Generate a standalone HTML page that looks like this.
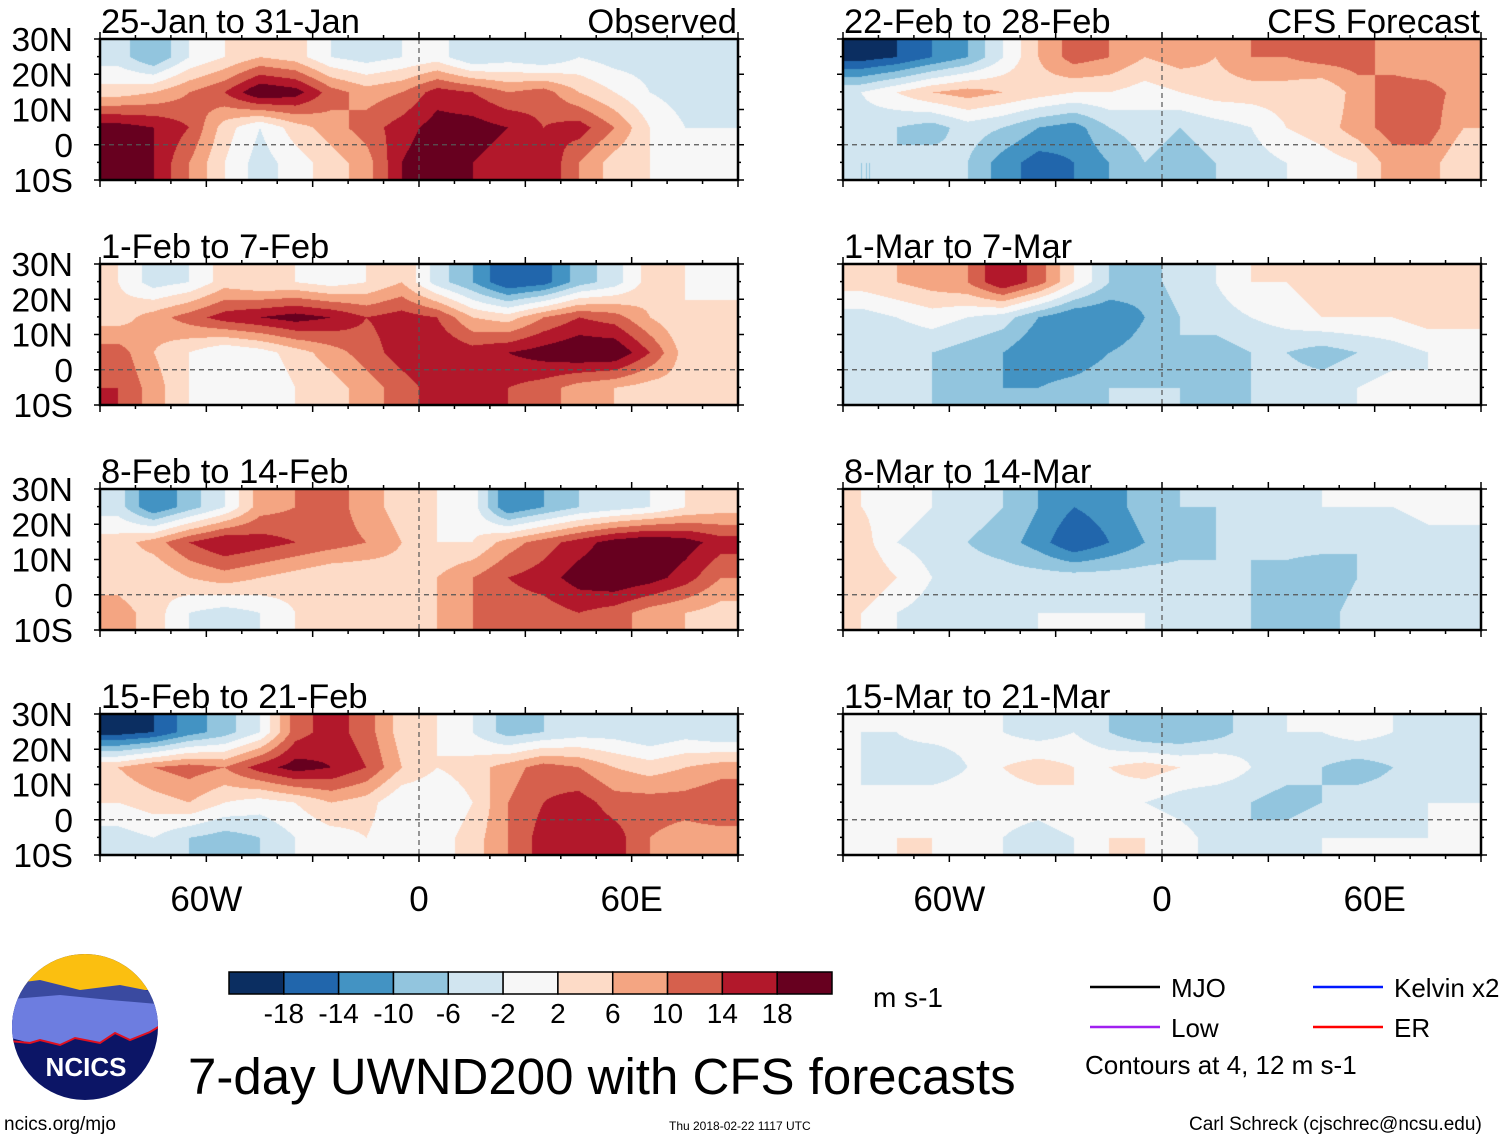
<!DOCTYPE html>
<html><head><meta charset="utf-8">
<style>
body{margin:0;background:#fff;width:1510px;height:1142px;overflow:hidden;position:relative;font-family:"Liberation Sans",sans-serif;}
.t{position:absolute;white-space:nowrap;color:#000;line-height:1;}
canvas,svg{position:absolute;left:0;top:0;}
</style></head>
<body>
<canvas id="maps" width="1510" height="1142"></canvas>
<svg id="ov" width="1510" height="1142"></svg>

<div class="t" style="left:188px;top:1051px;font-size:51px;">7-day UWND200 with CFS forecasts</div>
<div class="t" style="left:873px;top:984px;font-size:28px;">m s-1</div>
<div class="t" style="left:4px;top:1115px;font-size:19px;">ncics.org/mjo</div>
<div class="t" style="left:669px;top:1120px;font-size:12px;">Thu 2018-02-22 1117 UTC</div>
<div class="t" style="left:1189px;top:1115px;font-size:19px;">Carl Schreck (cjschrec@ncsu.edu)</div>
<div class="t" style="left:1085px;top:1052px;font-size:26px;">Contours at 4, 12 m s-1</div>

<script>
// ---- data: u-wind grid (m/s), rows lat 25N,15N,5N,5S ; cols lon -85..85 step 10
const lonCenters=[-85,-75,-65,-55,-45,-35,-25,-15,-5,5,15,25,35,45,55,65,75,85];
const latCenters=[25,15,5,-5];
const panelTitles=["25-Jan to 31-Jan","1-Feb to 7-Feb","8-Feb to 14-Feb","15-Feb to 21-Feb","22-Feb to 28-Feb","1-Mar to 7-Mar","8-Mar to 14-Mar","15-Mar to 21-Mar"];
const u1=[[-4,-10,-2,2,6,4,-2,-4,-2,0,-6,-4,-6,-2,-4,-4,-2,-4],[4,6,10,14,22,20,12,8,10,16,14,10,12,6,2,-2,-4,-6],[20,18,14,4,-2,4,8,12,16,20,20,18,14,16,10,2,-2,-2],[22,18,10,2,-4,0,4,8,18,22,18,16,18,10,4,2,0,-2]];
const u2=[[2,-4,-2,4,2,2,0,2,6,-4,-10,-18,-16,-8,-4,4,2,0],[4,8,12,16,18,20,18,14,16,14,6,4,10,14,12,6,2,4],[12,6,2,-2,0,4,8,12,16,18,16,18,20,22,22,14,4,4],[14,8,2,0,-2,2,4,8,12,16,16,14,12,8,6,4,4,2]];
const u3=[[-4,-14,-8,-2,8,10,12,8,4,2,0,-14,-10,-6,-4,-2,2,4],[4,8,14,18,16,14,12,10,6,2,2,8,12,16,20,22,20,16],[4,2,6,8,6,4,2,2,4,6,10,14,16,20,22,20,16,10],[8,4,-2,-4,-2,2,2,2,4,6,10,12,12,14,12,8,6,4]];
const u4=[[-20,-18,-12,-8,-2,12,16,12,4,2,-2,-8,-6,-4,-4,-6,-4,-6],[6,10,12,10,16,20,18,14,6,2,4,8,12,10,6,4,6,8],[2,4,6,2,0,2,6,4,-2,-2,2,10,14,16,12,12,12,14],[-4,-2,-6,-8,-6,-2,0,2,-2,0,4,10,16,18,16,10,8,8]];
const u5=[[-20,-18,-14,-10,-2,6,12,10,6,8,6,10,10,12,12,8,6,6],[-2,2,6,8,6,4,2,2,0,2,4,4,4,2,8,12,12,8],[-4,-6,-8,-4,-6,-10,-12,-6,-4,-6,-4,-2,2,4,8,12,12,6],[-6,-6,-4,-6,-12,-16,-14,-10,-6,-8,-6,-4,-2,0,2,8,8,2]];
const u6=[[4,6,8,10,18,12,2,-6,-8,-4,-2,2,2,4,2,4,6,4],[-4,-2,0,-2,-4,-10,-14,-14,-10,-6,-4,-2,0,2,2,2,4,4],[-4,-6,-6,-8,-10,-14,-14,-10,-8,-6,-8,-6,-6,-8,-6,-4,-2,-2],[-4,-4,-6,-8,-10,-10,-8,-6,-6,-6,-8,-6,-4,-4,-2,0,-2,-2]];
const u7=[[2,0,-2,-4,-6,-10,-14,-12,-8,-6,-6,-4,-4,-2,-2,-2,0,0],[4,-2,-4,-6,-8,-12,-18,-14,-10,-8,-6,-6,-4,-4,-6,-6,-4,-4],[6,2,-2,-4,-4,-4,-4,-4,-4,-4,-6,-6,-8,-10,-6,-4,-4,-4],[2,-2,-4,-4,-4,-2,-2,-2,-2,-4,-6,-6,-8,-8,-4,-2,-4,-4]];
const u8=[[-2,-2,0,0,-2,-4,-2,-6,-10,-10,-8,-4,-2,-2,0,-2,-4,-4],[-2,-4,-6,-2,2,4,2,2,4,2,2,-2,-4,-6,-8,-6,-4,-4],[-2,0,2,2,0,0,2,0,-2,-4,-6,-6,-8,-6,-4,-4,-2,-2],[0,2,2,0,-2,-4,-2,2,2,0,-4,-6,-4,-2,-2,-2,-2,-2]];
const panelData=[u1,u2,u3,u4,u5,u6,u7,u8];
const levels=[-18,-14,-10,-6,-2,2,6,10,14,18];
const cbLabels=["-18","-14","-10","-6","-2","2","6","10","14","18"];
const palette=["#0b2e61","#2166ac","#4393c3","#92c5de","#d1e5f0","#f7f7f7","#fddbc7","#f4a582","#d6604d","#b2182b","#67001f"];

// ---- layout
const colX=[100,843], rowY=[39,264,489,714], PW=638, PH=141;
function xOf(px,lon){return px+(lon+90)/180*PW;}
function yOf(py,lat){return py+(30-lat)/40*PH;}
function colorOf(v){let i=0;while(i<levels.length&&v>=levels[i])i++;return palette[i];}
function hex2rgb(h){return [parseInt(h.substr(1,2),16),parseInt(h.substr(3,2),16),parseInt(h.substr(5,2),16)];}
function sample(g,lon,lat){
  let fx=(lon-lonCenters[0])/10, fy=(latCenters[0]-lat)/10;
  fx=Math.max(0,Math.min(lonCenters.length-1,fx)); fy=Math.max(0,Math.min(latCenters.length-1,fy));
  const x0=Math.floor(fx),y0=Math.floor(fy),x1=Math.min(x0+1,lonCenters.length-1),y1=Math.min(y0+1,latCenters.length-1);
  const ax=fx-x0,ay=fy-y0;
  return (g[y0][x0]*(1-ax)+g[y0][x1]*ax)*(1-ay)+(g[y1][x0]*(1-ax)+g[y1][x1]*ax)*ay;
}
const ctx=document.getElementById('maps').getContext('2d');
panelData.forEach((g,k)=>{
  const px=colX[k<4?0:1], py=rowY[k%4];
  const img=ctx.createImageData(PW,PH);
  for(let j=0;j<PH;j++)for(let i=0;i<PW;i++){
    const lon=-90+i/PW*180, lat=30-j/PH*40;
    const c=hex2rgb(colorOf(sample(g,lon,lat)));
    const o=(j*PW+i)*4; img.data[o]=c[0];img.data[o+1]=c[1];img.data[o+2]=c[2];img.data[o+3]=255;
  }
  ctx.putImageData(img,px,py);
});

// ---- overlay
const NS="http://www.w3.org/2000/svg", ov=document.getElementById('ov');
function mk(tag,attrs,parent){const e=document.createElementNS(NS,tag);for(const a in attrs)e.setAttribute(a,attrs[a]);(parent||ov).appendChild(e);return e;}
const latLabels=["30N","20N","10N","0","10S"], latTicks=[30,20,10,0,-10];
const lonTicks=[-60,0,60], lonLabels=["60W","0","60E"];
panelData.forEach((g,k)=>{
  const px=colX[k<4?0:1], py=rowY[k%4];
  const grp=mk('g',{});
  
  
  const eq=mk('line',{x1:px,x2:px+PW,y1:yOf(py,0),y2:yOf(py,0),stroke:'#555','stroke-width':1.2,'stroke-dasharray':'5,4'},grp);
  
  
  mk('line',{x1:xOf(px,0),x2:xOf(px,0),y1:py,y2:py+PH,stroke:'#555','stroke-width':1.2,'stroke-dasharray':'5,4'},grp);
  for(let lon=-90;lon<=90;lon+=10){
    const x=xOf(px,lon), L=(lon%30===0)?7:4;
    mk('line',{x1:x,x2:x,y1:py+PH,y2:py+PH+L,stroke:'#000','stroke-width':1.5},grp);
    mk('line',{x1:x,x2:x,y1:py,y2:py-L,stroke:'#000','stroke-width':1.5},grp);
  }
  for(let lat=-10;lat<=30;lat+=5){
    const y=yOf(py,lat), L=(lat%10===0)?6:3;
    mk('line',{x1:px,x2:px-L,y1:y,y2:y,stroke:'#000','stroke-width':1.5},grp);
    mk('line',{x1:px+PW,x2:px+PW+L,y1:y,y2:y,stroke:'#000','stroke-width':1.5},grp);
  }
  const fr=mk('rect',{x:px,y:py,width:PW,height:PH,fill:'none',stroke:'#000','stroke-width':2.5},grp);
  
  
  const tt=mk('text',{x:px+1,y:py-6,'font-size':34.5,'font-family':'Liberation Sans'},grp);
  tt.textContent=panelTitles[k];
  
  
  if(k===0||k===4){
    const lab=mk('text',{x:px+PW-1,y:py-6,'font-size':34.5,'text-anchor':'end','font-family':'Liberation Sans'},grp);
    lab.textContent=k===0?"Observed":"CFS Forecast";
    
    
  }
  if(k<4){
    latTicks.forEach((lat,i)=>{
      const t=mk('text',{x:73,y:yOf(py,lat)+12,'font-size':33.5,'text-anchor':'end','font-family':'Liberation Sans'},grp);
      t.textContent=latLabels[i];
      
      
    });
  }
  if(k%4===3){
    lonTicks.forEach((lon,i)=>{
      const t=mk('text',{x:xOf(px,lon),y:py+PH+56,'font-size':35,'text-anchor':'middle','font-family':'Liberation Sans'},grp);
      t.textContent=lonLabels[i];
      
      
    });
  }
});

// colorbar
const cb=mk('g',{});


const cbX=229,cbW=603,cbY=972,cbH=22,bw=cbW/palette.length;
palette.forEach((c,i)=>{
  const r=mk('rect',{x:cbX+i*bw,y:cbY,width:bw,height:cbH,fill:c,stroke:'#000','stroke-width':1.5},cb);
  
  
});
cbLabels.forEach((l,i)=>{
  const t=mk('text',{x:cbX+(i+1)*bw,y:1023,'font-size':28,'text-anchor':'middle','font-family':'Liberation Sans'},cb);
  t.textContent=l;
  
  
});

// legend
const legend=[["MJO","#000",1090,987],["Kelvin x2","#0018ff",1313,987],["Low","#a020f0",1090,1027],["ER","#ff0000",1313,1027]];
legend.forEach(([name,col,x,y])=>{
  const g=mk('g',{});
  
  
  mk('line',{x1:x,x2:x+70,y1:y,y2:y,stroke:col,'stroke-width':2.5},g);
  const t=mk('text',{x:x+81,y:y+10,'font-size':26,'font-family':'Liberation Sans'},g);
  t.textContent=name;
});

// logo
const lg=mk('g',{});


mk('defs',{},lg).innerHTML='<clipPath id="lc"><circle cx="85" cy="1027" r="73"/></clipPath>';
const lc=mk('g',{'clip-path':'url(#lc)'},lg);
mk('rect',{x:0,y:950,width:170,height:160,fill:'#0c1566'},lc);
mk('rect',{x:0,y:950,width:170,height:40,fill:'#fbbf10'},lc);
mk('path',{d:'M0 985 L40 980 L80 990 L120 985 L170 995 L170 1020 L120 1020 L0 1030Z',fill:'#3a4aa0'},lc);
mk('path',{d:'M0 1000 L60 995 L110 1000 L170 1005 L170 1020 L150 1032 L130 1040 L115 1033 L100 1043 L75 1038 L60 1045 L40 1040 L30 1043 L0 1035Z',fill:'#6d7de0'},lc);
mk('path',{d:'M0 1040 L30 1043 L40 1040 L60 1045 L75 1038 L100 1043 L115 1033 L130 1040 L150 1032 L170 1020',fill:'none',stroke:'#e01020','stroke-width':2},lc);
const lt=mk('text',{x:86,y:1076,'font-size':26,'font-weight':'bold','text-anchor':'middle',fill:'#fff','font-family':'Liberation Sans'},lg);
lt.textContent="NCICS";
</script>
</body></html>
